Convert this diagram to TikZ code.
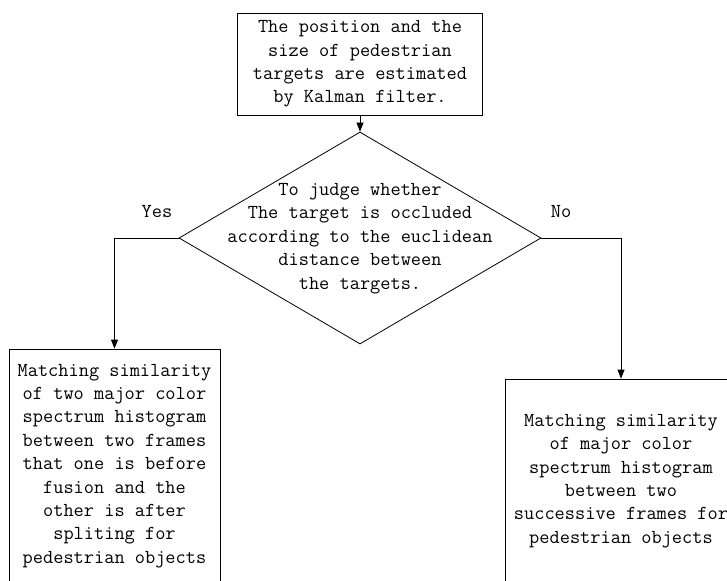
\documentclass[tikz,border=0pt]{standalone}
\usetikzlibrary{shapes.geometric,arrows.meta}
\begin{document}
\begin{tikzpicture}[x=1pt,y=-1pt,
  every node/.style={font=\fontsize{19.8}{23.4}\selectfont\ttfamily, text=black},
  flowbox/.style={draw, line width=0.8pt, inner sep=0pt, align=center},
  conn/.style={line width=0.8pt, -{Triangle[length=9pt,width=7pt]}},
  lbl/.style={inner sep=0pt}]
\useasboundingbox (0,0) rectangle (727,580);
\begin{scope}
\clip (0,0) rectangle (727,580);
\node[flowbox, minimum width=245pt, minimum height=102pt] (top) at (360,64)
  {The position and the\\size of pedestrian\\targets are estimated\\by Kalman filter.};
\node[draw, line width=0.8pt, diamond, minimum width=362pt, minimum height=212pt, inner sep=0pt] (dec) at (360,238) {};
\node[align=center, inner sep=0pt] (dectext) at (360,238.5)
  {To judge whether\\The target is occluded\\according to the euclidean\\distance between\\the targets.};
\node[flowbox, minimum width=211pt, minimum height=234pt] (left) at (114.5,466)
  {Matching similarity\\of two major color\\spectrum histogram\\between two frames\\that one is before\\fusion and the\\other is after\\spliting for\\pedestrian objects};
\node[flowbox, minimum width=232pt, minimum height=204pt] (right) at (621,481)
  {Matching similarity\\of major color\\spectrum histogram\\between two\\successive frames for\\pedestrian objects};
\end{scope}
\draw[conn] (top.south) -- (dec.north);
\draw[conn] (dec.west) -| (left.north);
\draw[conn] (dec.east) -| (right.north);
\node[lbl] (yes) at (157,212) {Yes};
\node[lbl] (no) at (561,212) {No};
\end{tikzpicture}
\end{document}
